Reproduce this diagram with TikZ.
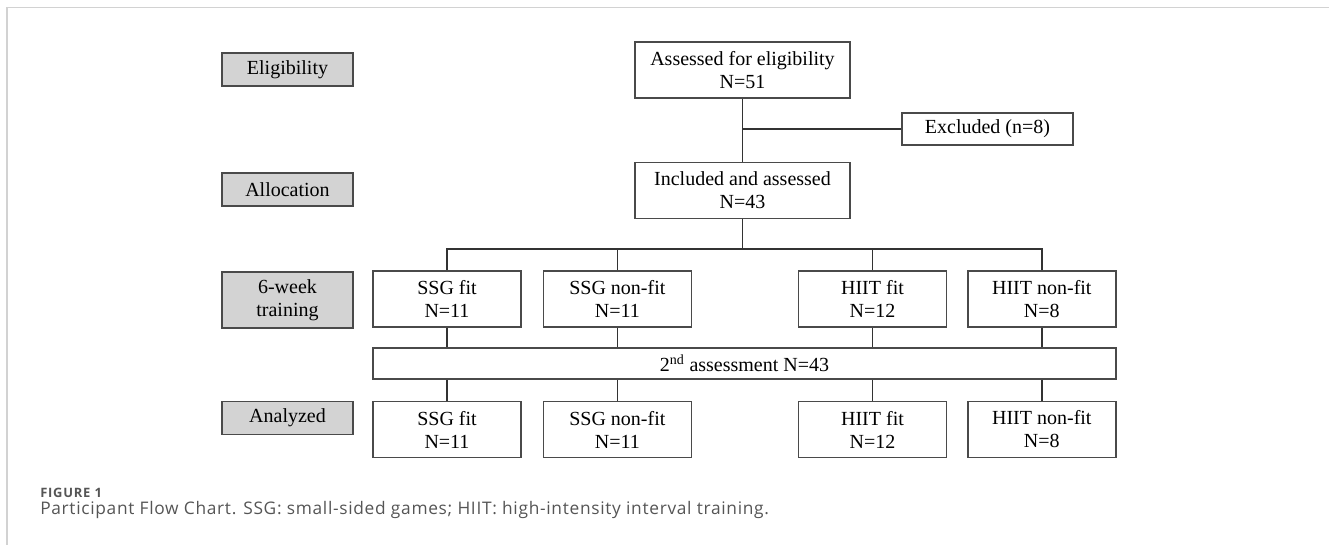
\documentclass[tikz,border=0pt]{standalone}
\usepackage{fontspec}
\setmainfont{Liberation Serif}
\newfontfamily\labelfont[LetterSpace=6]{Open Sans}
\newfontfamily\captionfont[LetterSpace=4]{Open Sans}
\usepackage{tikz}
\usetikzlibrary{positioning}
\definecolor{boxgray}{HTML}{D3D3D3}
\definecolor{edgegray}{HTML}{4A4A4A}
\definecolor{framegray}{HTML}{D2D2D2}
\definecolor{capgray}{HTML}{555555}

\begin{document}
\begin{tikzpicture}[
    x=0.75pt, y=-0.75pt,
    phase/.style={rectangle, draw=edgegray, fill=boxgray, line width=1pt, minimum width=98.25pt, minimum height=24.75pt, align=center, inner sep=0pt, font=\fontsize{15}{17.25}\selectfont},
    flowbox/.style={rectangle, draw=edgegray, line width=1pt, minimum height=42pt, align=center, inner sep=0pt, font=\fontsize{15}{17.25}\selectfont},
    group/.style={flowbox, minimum width=111pt},
    link/.style={draw=black!80, line width=1.2pt}
]
  \useasboundingbox (0,0) rectangle (1329,545);
  \draw[framegray, line width=1.2pt] (7,545) -- (7,7.5) -- (1329,7.5);

  % Phase labels
  \node[phase] (elig) at (287.5,69.5) {Eligibility};
  \node[phase] (alloc) at (287.5,189.5) {Allocation};
  \node[phase, minimum height=42pt] (train) at (287.5,300) {6-week\\training};
  \node[phase] (analyzed) at (287.5,418) {Analyzed};

  % Nodes
  \node[flowbox, minimum width=161.25pt] (assessed) at (742.5,70) {Assessed for eligibility\\N=51};
  \node[flowbox, minimum width=161.25pt, below=47.25pt of assessed] (included) {Included and assessed\\N=43};
  \node[flowbox, minimum width=128.25pt, minimum height=24pt] (excluded) at (987.5,129) {Excluded (n=8)};

  \node[group] (ssgfit) at (447,299) {SSG fit\\N=11};
  \node[group, right=15.75pt of ssgfit] (ssgnonfit) {SSG non-fit\\N=11};
  \node[group] (hiitfit) at (872.5,299) {HIIT fit\\N=12};
  \node[group, right=15pt of hiitfit] (hiitnonfit) {HIIT non-fit\\N=8};

  \node[flowbox, minimum width=557.25pt, minimum height=23.25pt] (second) at (744.5,363.5) {2\textsuperscript{nd} assessment N=43};

  \node[group] (ssgfit2) at (447,429.5) {SSG fit\\N=11};
  \node[group, right=15.75pt of ssgfit2] (ssgnonfit2) {SSG non-fit\\N=11};
  \node[group] (hiitfit2) at (872.5,429.5) {HIIT fit\\N=12};
  \node[group, right=15pt of hiitfit2] (hiitnonfit2) {HIIT non-fit\\N=8};

  \coordinate (branch) at (742.5,249);

  % Lines
  \draw[link] (assessed) -- (included);
  \draw[link] (excluded.west) -- (excluded.west -| assessed.south);
  \draw[link] (included) -- (branch);
  \draw[link] (ssgfit.north) |- (branch) -| (hiitnonfit.north);
  \draw[link] (ssgnonfit.north) -- (ssgnonfit.north |- branch);
  \draw[link] (hiitfit.north) -- (hiitfit.north |- branch);
  \foreach \g in {ssgfit,ssgnonfit,hiitfit,hiitnonfit} {
    \draw[link] (\g.south) -- (\g.south |- second.north);
    \draw[link] (second.south -| \g2.north) -- (\g2.north);
  }

  % Caption
  \node[anchor=base west, inner sep=0pt, text=capgray, font=\labelfont\bfseries\fontsize{9.7}{11}\selectfont] (figlabel) at (40,498) {FIGURE 1};
  \node[anchor=base west, inner sep=0pt, text=capgray, font=\captionfont\fontsize{13}{15}\selectfont] (caption) at (40,514) {Participant Flow Chart. SSG: small-sided games; HIIT: high-intensity interval training.};
\end{tikzpicture}
\end{document}
